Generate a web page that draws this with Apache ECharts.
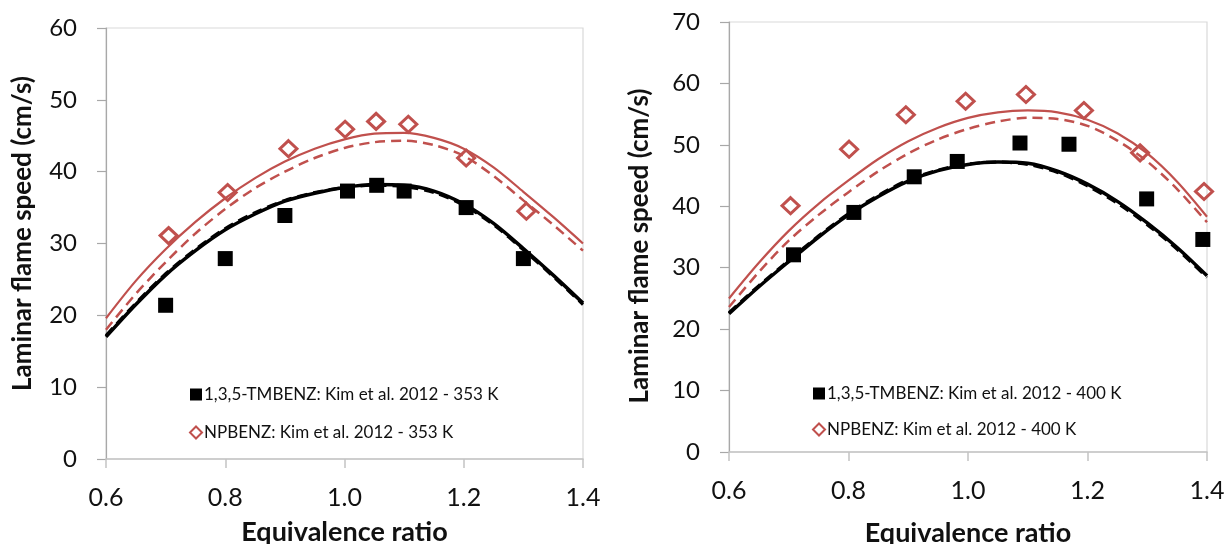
<!DOCTYPE html>
<html>
<head>
<meta charset="utf-8">
<script src="https://cdn.jsdelivr.net/npm/echarts@6/dist/echarts.min.js"></script>
<style>
html,body{margin:0;padding:0;background:#fff;}
#c{width:1227px;height:544px;}
</style>
</head>
<body>
<div id="c"></div>
<script>
// ---- Data ----
const phiModel = [0.6, 0.65, 0.7, 0.75, 0.8, 0.85, 0.9, 0.95, 1.0, 1.05, 1.1, 1.15, 1.2, 1.25, 1.3, 1.35, 1.4];
// 353 K (left)
const tmb353Solid = [17.0, 21.5, 25.6, 29.0, 31.9, 34.1, 35.9, 37.0, 37.8, 38.2, 38.1, 37.3, 35.5, 32.8, 29.3, 25.6, 21.7];
const tmb353Dash  = [17.2, 21.7, 25.8, 29.2, 32.1, 34.3, 36.0, 37.1, 37.8, 38.1, 37.9, 37.1, 35.3, 32.6, 29.1, 25.4, 21.5];
const np353Solid  = [19.6, 24.8, 29.2, 33.0, 36.3, 39.1, 41.4, 43.2, 44.5, 45.3, 45.4, 44.7, 43.2, 40.6, 37.2, 33.7, 30.0];
const np353Dash   = [18.0, 23.0, 27.4, 31.4, 34.8, 37.7, 40.0, 41.9, 43.3, 44.1, 44.3, 43.7, 42.2, 39.4, 36.0, 32.6, 29.0];
const phiTmb353 = [0.70, 0.80, 0.90, 1.005, 1.054, 1.10, 1.204, 1.30];
const tmb353Exp = [21.4, 27.9, 33.9, 37.3, 38.1, 37.3, 35.0, 27.9];
const phiNp353  = [0.705, 0.804, 0.906, 1.001, 1.053, 1.107, 1.204, 1.305];
const np353Exp  = [31.1, 37.1, 43.2, 45.9, 47.0, 46.6, 41.9, 34.5];
// 400 K (right)
const tmb400Solid = [22.5, 26.9, 31.0, 35.0, 38.6, 41.6, 44.1, 45.8, 46.8, 47.2, 47.0, 45.7, 43.6, 40.8, 37.3, 33.3, 28.7];
const tmb400Dash  = [22.7, 27.1, 31.2, 35.2, 38.8, 41.8, 44.3, 45.9, 46.9, 47.2, 46.8, 45.5, 43.3, 40.5, 37.0, 33.0, 28.4];
const np400Solid  = [25.0, 30.8, 36.0, 40.4, 44.2, 47.7, 50.6, 52.8, 54.4, 55.3, 55.6, 55.3, 54.1, 51.9, 48.6, 44.0, 38.3];
const np400Dash   = [23.6, 29.3, 34.4, 38.6, 42.3, 45.7, 48.6, 50.9, 52.6, 53.8, 54.4, 54.2, 53.1, 50.7, 47.3, 42.8, 37.4];
const phiTmb400 = [0.708, 0.809, 0.910, 0.982, 1.087, 1.169, 1.299, 1.393];
const tmb400Exp = [32.1, 39.0, 44.8, 47.3, 50.3, 50.1, 41.2, 34.6];
const phiNp400  = [0.703, 0.801, 0.896, 0.996, 1.097, 1.194, 1.288, 1.395];
const np400Exp  = [40.1, 49.3, 54.9, 57.1, 58.2, 55.6, 48.7, 42.4];

const legTmb353 = '1,3,5-TMBENZ: Kim et al. 2012 - 353 K';
const legNp353  = 'NPBENZ: Kim et al. 2012 - 353 K';
const legTmb400 = '1,3,5-TMBENZ: Kim et al. 2012 - 400 K';
const legNp400  = 'NPBENZ: Kim et al. 2012 - 400 K';

const RED = '#c0504d';
const FONT = 'Lato';
const zip = (xs, ys) => xs.map((x, i) => [x, ys[i]]);

function xAxis(gi, gap) {
  return {
    type: 'value', gridIndex: gi, min: 0.6, max: 1.4, interval: 0.2,
    name: 'Equivalence ratio', nameLocation: 'middle', nameGap: gap,
    nameTextStyle: {fontFamily: FONT, fontWeight: 'bold', fontSize: 27, color: '#111'},
    axisLine: {show: true, lineStyle: {color: '#c4c4c4', width: 1.5}},
    axisTick: {show: true, inside: false, length: 9, lineStyle: {color: '#c4c4c4', width: 1.5}},
    axisLabel: {fontFamily: FONT, fontSize: 25, color: '#111', margin: 26,
      formatter: v => v.toFixed(1)},
    splitLine: {show: false}
  };
}
function yAxis(gi, max, gap, pad) {
  return {
    type: 'value', gridIndex: gi, min: 0, max: max, interval: 10,
    name: 'Laminar flame speed (cm/s)', nameLocation: 'middle', nameGap: gap, nameRotate: 90,
    nameTextStyle: {fontFamily: FONT, fontWeight: 'bold', fontSize: 26, color: '#111', padding: pad},
    axisLine: {show: true, lineStyle: {color: '#a8a8a8', width: 1.2}},
    axisTick: {show: true, inside: false, length: 9, lineStyle: {color: '#a8a8a8', width: 1.2}},
    axisLabel: {fontFamily: FONT, fontSize: 24, color: '#111', margin: 29},
    splitLine: {show: false}
  };
}
function line(gi, ys, color, width, dashed) {
  return {
    type: 'line', xAxisIndex: gi, yAxisIndex: gi, data: zip(phiModel, ys),
    smooth: 0.3, showSymbol: false, symbol: 'none', silent: true, z: dashed ? 3 : 2,
    lineStyle: {color: color, width: width, type: dashed ? [10, 6] : 'solid'}
  };
}
function sq(gi, name, xs, ys) {
  return {
    type: 'scatter', name: name, xAxisIndex: gi, yAxisIndex: gi, data: zip(xs, ys),
    symbol: 'rect', symbolSize: 15, z: 5, itemStyle: {color: '#000', opacity: 1}
  };
}
function dia(gi, name, xs, ys) {
  return {
    type: 'scatter', name: name, xAxisIndex: gi, yAxisIndex: gi, data: zip(xs, ys),
    symbol: 'diamond', symbolSize: [17, 16], z: 5,
    itemStyle: {color: 'rgba(255,255,255,0)', borderColor: RED, borderWidth: 3, opacity: 1}
  };
}
function legend(names, left, top, gap) {
  return {
    data: names, left: left, top: top, orient: 'vertical', itemGap: gap,
    itemWidth: 12, itemHeight: 12,
    textStyle: {fontFamily: FONT, fontSize: 17, color: '#111', padding: [0, 0, 0, -3]},
    selectedMode: false
  };
}

const chart = echarts.init(document.getElementById('c'), null, {renderer: 'canvas'});
chart.setOption({
  backgroundColor: '#fff',
  animation: false,
  grid: [
    {left: 106, top: 28, right: 644, bottom: 85, show: true, borderColor: '#d9d9d9', borderWidth: 1.2,
     containLabel: false, outerBoundsMode: 'none'},
    {left: 729, top: 22, right: 20, bottom: 92, show: true, borderColor: '#d9d9d9', borderWidth: 1.2,
     containLabel: false, outerBoundsMode: 'none'}
  ],
  legend: [
    legend([legTmb353, legNp353], 184, 381, 21),
    legend([legTmb400, legNp400], 807, 380, 19)
  ],
  xAxis: [xAxis(0, 60), xAxis(1, 68)],
  yAxis: [yAxis(0, 60, 70, [0, 0, 0, 20]), yAxis(1, 70, 76, [0, 18, 0, 0])],
  series: [
    line(0, np353Solid, RED, 2.2, false),
    line(0, np353Dash, RED, 2.5, true),
    line(0, tmb353Solid, '#000', 3.5, false),
    line(0, tmb353Dash, '#000', 3, true),
    sq(0, legTmb353, phiTmb353, tmb353Exp),
    dia(0, legNp353, phiNp353, np353Exp),
    line(1, np400Solid, RED, 2.2, false),
    line(1, np400Dash, RED, 2.5, true),
    line(1, tmb400Solid, '#000', 3.5, false),
    line(1, tmb400Dash, '#000', 3, true),
    sq(1, legTmb400, phiTmb400, tmb400Exp),
    dia(1, legNp400, phiNp400, np400Exp)
  ]
});
</script>
</body>
</html>
